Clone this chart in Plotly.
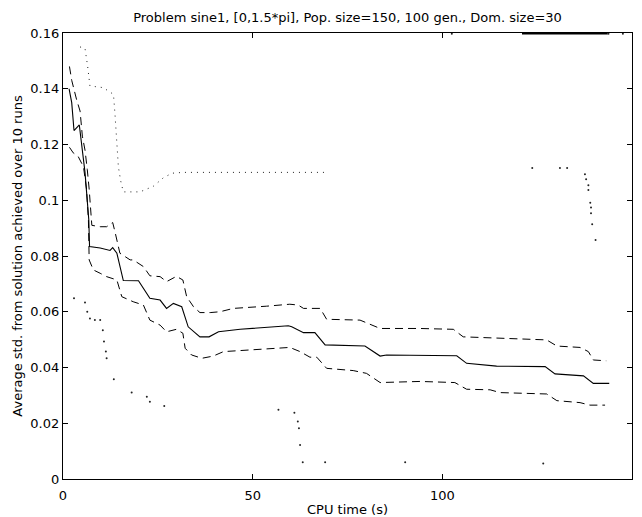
import plotly.graph_objects as go

# ---- data (CPU time in s, average std.) ----
mean_t = [1.6, 2.3, 2.9, 4.3, 5.8, 6.4, 6.8, 7.0, 9.8, 12.4, 13.1, 14.2, 15.9, 19.9, 22.9, 25.6,
          27.3, 29.1, 31.3, 33.0, 36.1, 38.5, 41.0, 46.7, 53.7, 59.4, 60.3, 63.4, 66.4, 69.1, 79.6,
          83.6, 85.3, 94.1, 103.8, 106.4, 114.3, 127.1, 129.7, 137.2, 139.8, 144.0]
mean_v = [0.140, 0.135, 0.125, 0.127, 0.110, 0.100, 0.093, 0.0834, 0.0829, 0.082, 0.083, 0.081,
          0.0712, 0.0711, 0.0648, 0.0642, 0.0612, 0.063, 0.0618, 0.0546, 0.051, 0.051, 0.0528,
          0.0537, 0.0543, 0.055, 0.0546, 0.0525, 0.0525, 0.0481, 0.0477, 0.0441, 0.0445, 0.0443,
          0.0442, 0.0415, 0.0405, 0.0403, 0.0377, 0.037, 0.0343, 0.0343]

upper_t = [1.7, 2.3, 3.6, 4.5, 5.1, 5.8, 6.4, 6.9, 7.6, 9.8, 11.5, 13.1, 13.7, 15.0, 17.7, 18.5,
           21.2, 22.9, 25.6, 27.3, 29.9, 31.6, 32.6, 34.4, 36.1, 38.8, 41.4, 44.9, 53.7, 59.8, 62.0,
           63.4, 67.8, 69.5, 78.3, 80.9, 83.6, 94.1, 102.9, 105.5, 127.5, 130.2, 136.3, 138.5,
           139.8, 143.2]
upper_v = [0.148, 0.143, 0.136, 0.132, 0.123, 0.118, 0.111, 0.104, 0.091, 0.0905, 0.0905, 0.092,
           0.0887, 0.081, 0.0786, 0.0786, 0.0762, 0.0729, 0.0726, 0.0708, 0.0727, 0.0714, 0.0654,
           0.0618, 0.0597, 0.0597, 0.060, 0.0612, 0.062, 0.0627, 0.0624, 0.0612, 0.0612, 0.0573,
           0.057, 0.0556, 0.054, 0.054, 0.0537, 0.051, 0.0499, 0.0477, 0.0472, 0.0457, 0.0427,
           0.0424]

lower_t = [1.7, 2.7, 4.0, 5.4, 6.2, 6.7, 6.9, 8.0, 9.8, 11.5, 14.2, 15.5, 18.5, 21.2, 22.9, 25.6,
           27.3, 29.9, 31.6, 32.2, 33.9, 36.6, 39.6, 42.3, 49.3, 59.8, 62.5, 65.1, 66.9, 69.5, 76.5,
           80.0, 83.6, 94.1, 103.3, 106.4, 112.6, 115.2, 127.5, 130.2, 136.3, 138.9, 142.9]
lower_v = [0.119, 0.117, 0.1157, 0.112, 0.104, 0.093, 0.0786, 0.075, 0.0738, 0.0726, 0.0714,
           0.0654, 0.0636, 0.0624, 0.057, 0.0552, 0.0528, 0.0537, 0.0523, 0.0469, 0.0445, 0.0433,
           0.0441, 0.0457, 0.0463, 0.0472, 0.0457, 0.0437, 0.0437, 0.0397, 0.0389, 0.0379, 0.0346,
           0.0350, 0.0346, 0.0322, 0.032, 0.031, 0.0305, 0.0281, 0.0274, 0.0265, 0.0265]

max_t = [4.5, 5.8, 6.5, 7.1, 10.6, 13.3, 13.7, 14.0, 14.3, 14.6, 15.2, 15.9, 20.3, 23.8, 26.4,
         28.7, 31.7, 69.5]
max_v = [0.155, 0.1545, 0.148, 0.141, 0.1404, 0.138, 0.131, 0.123, 0.118, 0.112, 0.107, 0.103,
         0.103, 0.105, 0.108, 0.1097, 0.110, 0.110]

max_top_t = [121.0, 143.6]
max_top_v = [0.1597, 0.1597]

max_pts_t = [102.5, 143.8, 147.6, 123.7, 131.0, 132.9, 137.6, 137.9, 138.5, 138.5, 139.0, 139.2,
             139.2, 139.5, 140.4]
max_pts_v = [0.1597, 0.1597, 0.1597, 0.1116, 0.1116, 0.1116, 0.1093, 0.1075, 0.1054, 0.1037,
             0.0991, 0.0974, 0.0953, 0.0914, 0.0857]

min_t = [2.9, 5.8, 6.4, 7.1, 8.4, 9.8, 10.5, 10.8, 11.3, 11.5, 13.4, 18.1, 22.1, 22.9, 26.7,
         56.8, 61.0, 61.9, 62.2, 62.5, 63.2, 69.1, 90.2, 126.6,
         135.0, 137.6, 140.8, 143.4]
min_v = [0.0648, 0.0633, 0.060, 0.0576, 0.057, 0.057, 0.0534, 0.0493, 0.0457, 0.0433, 0.0358,
         0.031, 0.0295, 0.0277, 0.0262,
         0.0248, 0.0238, 0.0206, 0.0182, 0.0122, 0.006, 0.006, 0.006, 0.0056,
         -0.0004, -0.0004, -0.0004, -0.0004]

x_ticks = [0, 50, 100, 150]
y_ticks = [0, 0.02, 0.04, 0.06, 0.08, 0.1, 0.12, 0.14, 0.16]

title_text = "Problem sine1, [0,1.5*pi], Pop. size=150, 100 gen., Dom. size=30"
x_title = "CPU time (s)"
y_title = "Average std. from solution achieved over 10 runs"

FONT = "DejaVu Sans"

fig = go.Figure()
fig.add_trace(go.Scatter(x=max_t, y=max_v, mode="lines",
                         line=dict(color="#222", width=1, dash="1px,5px")))
fig.add_trace(go.Scatter(x=max_top_t, y=max_top_v, mode="lines",
                         line=dict(color="black", width=1.5)))
fig.add_trace(go.Scatter(x=max_pts_t, y=max_pts_v, mode="markers",
                         marker=dict(color="#222", size=2), cliponaxis=False))
fig.add_trace(go.Scatter(x=min_t, y=min_v, mode="markers",
                         marker=dict(color="#222", size=2), cliponaxis=False))
fig.add_trace(go.Scatter(x=upper_t, y=upper_v, mode="lines",
                         line=dict(color="black", width=1, dash="8px,5px")))
fig.add_trace(go.Scatter(x=lower_t, y=lower_v, mode="lines",
                         line=dict(color="black", width=1, dash="8px,5px")))
fig.add_trace(go.Scatter(x=mean_t, y=mean_v, mode="lines",
                         line=dict(color="black", width=1.1)))

axis_common = dict(showline=True, linecolor="black", linewidth=1.2, mirror="ticks",
                   ticks="inside", ticklen=5, tickcolor="black", tickwidth=1,
                   showgrid=False, zeroline=False, automargin=False,
                   tickfont=dict(family=FONT, size=13, color="black"))

fig.update_layout(
    width=642, height=517,
    margin=dict(l=63, r=10, t=33, b=38),
    paper_bgcolor="white", plot_bgcolor="white",
    showlegend=False,
    title=dict(text=title_text, x=0.5, xref="paper", y=1 - 17 / 517, yref="container",
               yanchor="middle", font=dict(family=FONT, size=13, color="black")),
    xaxis=dict(range=[0, 150], tickvals=x_ticks, ticklabelstandoff=4,
               title=dict(text=x_title, font=dict(family=FONT, size=13, color="black"), standoff=4),
               **axis_common),
    yaxis=dict(range=[0, 0.16], tickvals=y_ticks,
               title=dict(text=y_title, font=dict(family=FONT, size=13, color="black"), standoff=4),
               **axis_common),
)

fig.write_html("out.html")
